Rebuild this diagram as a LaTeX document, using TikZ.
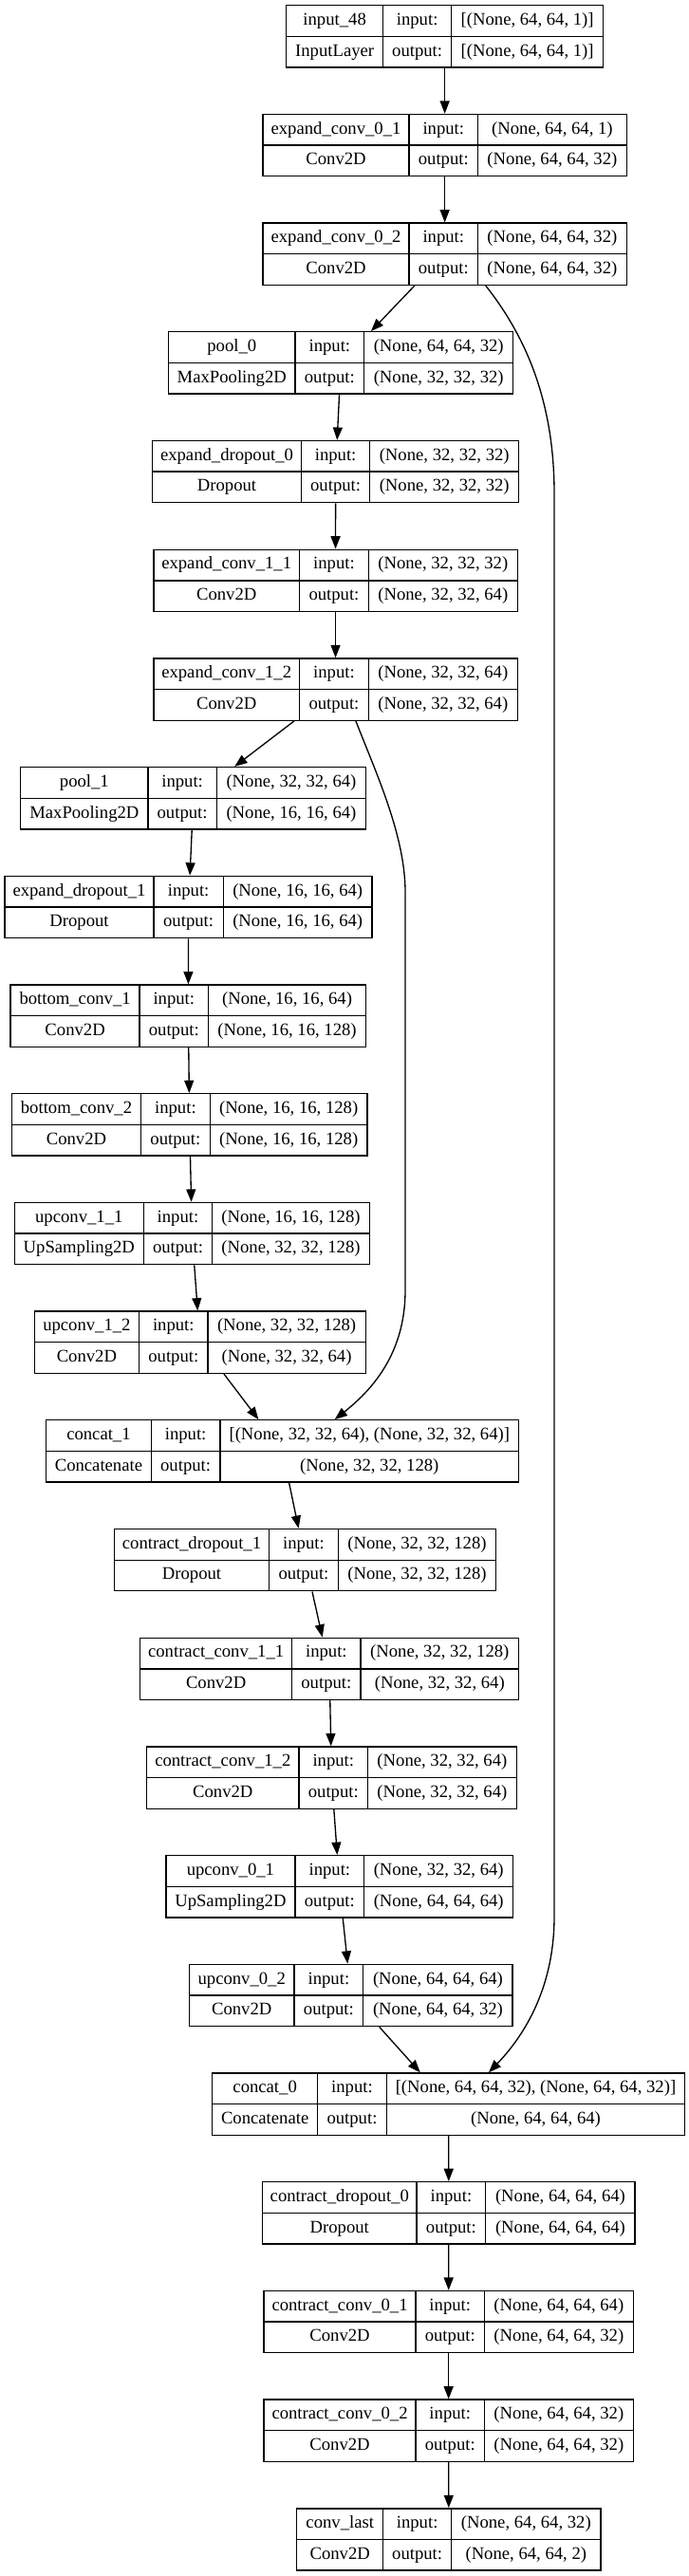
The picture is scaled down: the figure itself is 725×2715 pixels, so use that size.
\documentclass[tikz,border=0pt]{standalone}
\usepackage{fontspec}
\setmainfont{Liberation Serif}
\usetikzlibrary{arrows.meta,calc}
\tikzset{
  layerbox/.style={draw, rectangle, line width=1pt, inner sep=0pt, minimum height=48.975pt},
  divider/.style={line width=1pt},
  celltext/.style={inner sep=0pt, anchor=center, text height=9.8pt, text depth=3.2pt, font=\fontsize{14pt}{16pt}\selectfont},
  arr/.style={line width=1pt, -{Triangle[length=10pt,width=7.5pt]}},
}
\newcommand\kerasbox[9]{%
  \def\kbname{#1}\def\kbxa{#2}\def\kbxb{#3}\def\kbxc{#4}\def\kbxd{#5}%
  \def\kbi{#6}\def\kblab{#7}\def\kbtype{#8}\def\kbin{#9}\kerasboxfinish}
\newcommand\kerasboxfinish[1]{%
  \pgfmathsetmacro\kbyt{5.7+114.7*\kbi}%
  \pgfmathsetmacro\kbyb{\kbyt+65.3}%
  \pgfmathsetmacro\kbym{\kbyt+32.65}%
  \pgfmathsetmacro\kbw{(\kbxd-\kbxa)*0.75}%
  \node[layerbox, minimum width=\kbw pt] (\kbname) at ({(\kbxa+\kbxd)/2},\kbym) {};
  \draw[divider] (\kbxb,\kbyt) -- (\kbxb,\kbyb) (\kbxc,\kbyt) -- (\kbxc,\kbyb) (\kbxa,\kbym) -- (\kbxd,\kbym);
  \node[celltext] (\kbname-lab) at ({(\kbxa+\kbxb)/2},{\kbyt+16.3}) {\kblab};
  \node[celltext] (\kbname-typ) at ({(\kbxa+\kbxb)/2},{\kbyt+49}) {\kbtype};
  \node[celltext] (\kbname-inl) at ({(\kbxb+\kbxc)/2},{\kbyt+16.3}) {input:};
  \node[celltext] (\kbname-outl) at ({(\kbxb+\kbxc)/2},{\kbyt+49}) {output:};
  \node[celltext] (\kbname-inv) at ({(\kbxc+\kbxd)/2},{\kbyt+16.3}) {\kbin};
  \node[celltext] (\kbname-outv) at ({(\kbxc+\kbxd)/2},{\kbyt+49}) {#1};
}
\begin{document}
\begin{tikzpicture}[x=0.75pt,y=-0.75pt]
\useasboundingbox (0,0) rectangle (725,2715);
\kerasbox{in48}{301.6}{403.7}{475.6}{635.7}{0}{input\_48}{InputLayer}{[(None, 64, 64, 1)]}{[(None, 64, 64, 1)]}
\kerasbox{ec01}{277.0}{431.1}{503.5}{660.3}{1}{expand\_conv\_0\_1}{Conv2D}{(None, 64, 64, 1)}{(None, 64, 64, 32)}
\kerasbox{ec02}{277.0}{431.1}{503.5}{660.3}{2}{expand\_conv\_0\_2}{Conv2D}{(None, 64, 64, 32)}{(None, 64, 64, 32)}
\kerasbox{pool0}{177.7}{310.9}{383.8}{540.6}{3}{pool\_0}{MaxPooling2D}{(None, 64, 64, 32)}{(None, 32, 32, 32)}
\kerasbox{ed0}{160.6}{317.4}{389.8}{546.6}{4}{expand\_dropout\_0}{Dropout}{(None, 32, 32, 32)}{(None, 32, 32, 32)}
\kerasbox{ec11}{161.9}{315.5}{388.4}{545.2}{5}{expand\_conv\_1\_1}{Conv2D}{(None, 32, 32, 32)}{(None, 32, 32, 64)}
\kerasbox{ec12}{161.9}{315.5}{388.4}{545.2}{6}{expand\_conv\_1\_2}{Conv2D}{(None, 32, 32, 64)}{(None, 32, 32, 64)}
\kerasbox{pool1}{21.8}{155.9}{228.3}{385.6}{7}{pool\_1}{MaxPooling2D}{(None, 32, 32, 64)}{(None, 16, 16, 64)}
\kerasbox{ed1}{5.1}{161.9}{235.3}{392.1}{8}{expand\_dropout\_1}{Dropout}{(None, 16, 16, 64)}{(None, 16, 16, 64)}
\kerasbox{bc1}{11.1}{147.1}{219.5}{385.6}{9}{bottom\_conv\_1}{Conv2D}{(None, 16, 16, 64)}{(None, 16, 16, 128)}
\kerasbox{bc2}{12.5}{148.5}{221.3}{387.0}{10}{bottom\_conv\_2}{Conv2D}{(None, 16, 16, 128)}{(None, 16, 16, 128)}
\kerasbox{up11}{15.3}{151.3}{223.7}{389.3}{11}{upconv\_1\_1}{UpSampling2D}{(None, 16, 16, 128)}{(None, 32, 32, 128)}
\kerasbox{up12}{36.2}{146.6}{219.0}{385.2}{12}{upconv\_1\_2}{Conv2D}{(None, 32, 32, 128)}{(None, 32, 32, 64)}
\kerasbox{cat1}{48.7}{159.2}{232.0}{546.6}{13}{concat\_1}{Concatenate}{[(None, 32, 32, 64), (None, 32, 32, 64)]}{(None, 32, 32, 128)}
\kerasbox{cd1}{120.6}{283.5}{356.4}{522.5}{14}{contract\_dropout\_1}{Dropout}{(None, 32, 32, 128)}{(None, 32, 32, 128)}
\kerasbox{cc11}{147.6}{307.7}{380.0}{546.6}{15}{contract\_conv\_1\_1}{Conv2D}{(None, 32, 32, 128)}{(None, 32, 32, 64)}
\kerasbox{cc12}{154.5}{315.1}{387.5}{544.3}{16}{contract\_conv\_1\_2}{Conv2D}{(None, 32, 32, 64)}{(None, 32, 32, 64)}
\kerasbox{up01}{174.9}{310.9}{383.8}{540.6}{17}{upconv\_0\_1}{UpSampling2D}{(None, 32, 32, 64)}{(None, 64, 64, 64)}
\kerasbox{up02}{199.5}{310.0}{382.8}{540.1}{18}{upconv\_0\_2}{Conv2D}{(None, 64, 64, 64)}{(None, 64, 64, 32)}
\kerasbox{cat0}{223.7}{334.6}{407.4}{721.6}{19}{concat\_0}{Concatenate}{[(None, 64, 64, 32), (None, 64, 64, 32)]}{(None, 64, 64, 64)}
\kerasbox{cd0}{276.6}{439.0}{511.8}{669.1}{20}{contract\_dropout\_0}{Dropout}{(None, 64, 64, 64)}{(None, 64, 64, 64)}
\kerasbox{cc01}{278.0}{438.1}{510.4}{667.3}{21}{contract\_conv\_0\_1}{Conv2D}{(None, 64, 64, 64)}{(None, 64, 64, 32)}
\kerasbox{cc02}{278.0}{438.1}{510.4}{667.3}{22}{contract\_conv\_0\_2}{Conv2D}{(None, 64, 64, 32)}{(None, 64, 64, 32)}
\kerasbox{last}{312.8}{403.7}{475.6}{633.0}{23}{conv\_last}{Conv2D}{(None, 64, 64, 32)}{(None, 64, 64, 2)}
% straight connectors
\draw[arr] (in48) -- (ec01);
\draw[arr] (ec01) -- (ec02);
\draw[arr] (ec02) -- (pool0);
\draw[arr] (pool0) -- (ed0);
\draw[arr] (ed0) -- (ec11);
\draw[arr] (ec11) -- (ec12);
\draw[arr] (ec12) -- (pool1);
\draw[arr] (pool1) -- (ed1);
\draw[arr] (ed1) -- (bc1);
\draw[arr] (bc1) -- (bc2);
\draw[arr] (bc2) -- (up11);
\draw[arr] (up11) -- (up12);
\draw[arr] (up12) -- (cat1);
\draw[arr] (cat1) -- (cd1);
\draw[arr] (cd1) -- (cc11);
\draw[arr] (cc11) -- (cc12);
\draw[arr] (cc12) -- (up01);
\draw[arr] (up01) -- (up02);
\draw[arr] (up02) -- (cat0);
\draw[arr] (cat0) -- (cd0);
\draw[arr] (cd0) -- (cc01);
\draw[arr] (cc01) -- (cc02);
\draw[arr] (cc02) -- (last);
% skip connectors
\draw[arr] ($(ec02.south)+(43.1,0)$) .. controls (552,352) and (584,420) .. (584,520)
  -- (584,2020) .. controls (584,2100) and (548,2150) .. ($(cat0.north)+(42.3,0)$);
\draw[arr] ($(ec12.south)+(21.4,0)$) .. controls (395,812) and (427,880) .. (427,940)
  -- (427,1360) .. controls (427,1430) and (388,1468) .. ($(cat1.north)+(55,0)$);
\end{tikzpicture}
\end{document}
